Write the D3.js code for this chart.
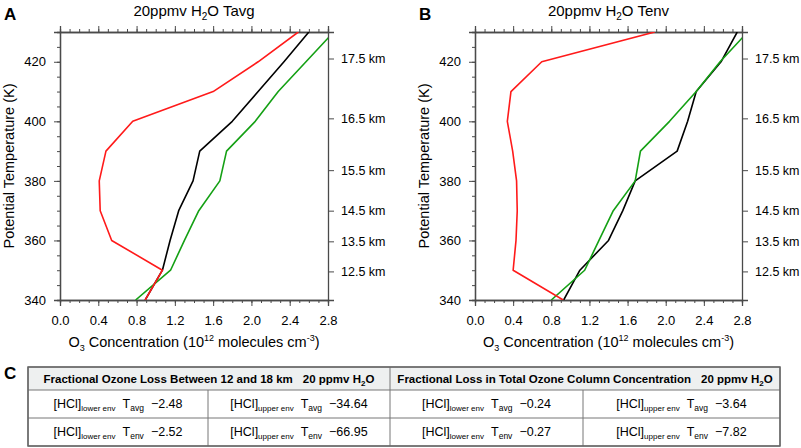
<!DOCTYPE html>
<html>
<head>
<meta charset="utf-8">
<script src="https://cdn.jsdelivr.net/npm/d3@7"></script>
<style>
  body { margin: 0; background: #fff; }
  svg { font-family: "Liberation Sans", Arial, Helvetica, sans-serif; }
</style>
</head>
<body>
<div id="chart"></div>
<script>
// potential temperature levels (K)
var thetaLevels = [340, 350, 360, 370, 380, 390, 400, 410, 420, 430];

// O3 concentration, 1e12 molecules cm-3
var avgRed   = [0.89, 1.07, 0.54, 0.42, 0.41, 0.48, 0.76, 1.60, 2.07, 2.49];
var avgBlack = [0.89, 1.07, 1.15, 1.24, 1.39, 1.46, 1.80, 2.07, 2.34, 2.60];
var avgGreen = [0.79, 1.155, 1.30, 1.45, 1.67, 1.74, 2.04, 2.28, 2.57, 2.86];

var envRed   = [0.925, 0.40, 0.43, 0.443, 0.436, 0.395, 0.339, 0.377, 0.70, 1.885];
var envBlack = [0.93, 1.10, 1.40, 1.55, 1.68, 2.12, 2.23, 2.32, 2.58, 2.75];
var envGreen = [0.80, 1.15, 1.30, 1.45, 1.68, 1.735, 2.04, 2.32, 2.57, 2.86];

var xTicks = [0.0, 0.4, 0.8, 1.2, 1.6, 2.0, 2.4, 2.8];
var yTicks = [340, 360, 380, 400, 420];
var kmLabels = ["12.5 km", "13.5 km", "14.5 km", "15.5 km", "16.5 km", "17.5 km"];
var kmTheta  = [349.6, 359.7, 370, 383.6, 401, 421.1];

var tableHeaders = [
  "Fractional Ozone Loss Between 12 and 18 km",
  "Fractional Loss in Total Ozone Column Concentration"
];
var tableEnv  = ["lower env", "upper env"];
var tableTemp = ["avg", "env"];
// rows: Tavg, Tenv ; columns: lower/upper env
var lossBand   = [["\u22122.48", "\u221234.64"], ["\u22122.52", "\u221266.95"]];
var lossColumn = [["\u22120.24", "\u22123.64"], ["\u22120.27", "\u22127.82"]];

var W = 801, H = 448;
var plotTop = 32, plotBottom = 300;
var axisColor = "#4a4a4a";

var svg = d3.select("#chart").append("svg")
    .attr("width", W).attr("height", H);

var panels = [
  { label: "A", title: "Tavg", left: 60, right: 328, series: [avgBlack, avgGreen, avgRed] },
  { label: "B", title: "Tenv", left: 475, right: 742, series: [envBlack, envGreen, envRed] }
];
var lineColors = ["#000000", "#14a014", "#ff1a1a"];

panels.forEach(function (p, pi) {
    var x = d3.scaleLinear().domain([0, 2.8]).range([p.left, p.right]);
    var y = d3.scaleLinear().domain([340, 430]).range([plotBottom, plotTop]);
    var g = svg.append("g");

    // clip so the green line stops at the frame
    svg.append("clipPath").attr("id", "clip" + pi)
        .append("rect").attr("x", p.left).attr("y", plotTop)
        .attr("width", p.right - p.left).attr("height", plotBottom - plotTop);

    // axes
    var xb = d3.axisBottom(x).tickValues(xTicks).tickFormat(d3.format(".1f")).tickSize(6).tickPadding(10);
    var xbm = d3.axisBottom(x).ticks(28).tickFormat("").tickSize(3);
    var xt = d3.axisTop(x).tickValues(xTicks).tickFormat("").tickSize(6);
    var xtm = d3.axisTop(x).ticks(28).tickFormat("").tickSize(3);
    var yl = d3.axisLeft(y).tickValues(yTicks).tickSize(6).tickPadding(8);
    var ylm = d3.axisLeft(y).ticks(18).tickFormat("").tickSize(3);
    var yr = d3.axisRight(y).tickValues(kmTheta).tickFormat(function (d, i) { return kmLabels[i]; })
        .tickSize(6).tickPadding(7);

    g.append("g").attr("transform", "translate(0," + plotBottom + ")").call(xbm);
    g.append("g").attr("transform", "translate(0," + plotBottom + ")").call(xb);
    g.append("g").attr("transform", "translate(0," + plotTop + ")").call(xtm);
    g.append("g").attr("transform", "translate(0," + plotTop + ")").call(xt);
    g.append("g").attr("transform", "translate(" + p.left + ",0)").call(ylm);
    g.append("g").attr("transform", "translate(" + p.left + ",0)").call(yl);
    var gr = g.append("g").attr("transform", "translate(" + p.right + ",0)").call(yr);

    g.selectAll(".domain").attr("stroke", axisColor).attr("stroke-width", 1.3);
    g.selectAll(".tick line").attr("stroke", axisColor).attr("stroke-width", 1);
    g.selectAll(".tick text").attr("fill", "#000").attr("font-size", 13)
        .attr("font-family", "Liberation Sans, Arial, sans-serif");
    gr.selectAll(".tick text").attr("font-size", 12.5);

    // lines
    var line = d3.line()
        .x(function (d) { return x(d[0]); })
        .y(function (d) { return y(d[1]); });
    var lg = g.append("g").attr("clip-path", "url(#clip" + pi + ")");
    p.series.forEach(function (s, si) {
        var pts = s.map(function (v, i) { return [v, thetaLevels[i]]; });
        lg.append("path")
            .attr("d", line(pts))
            .attr("fill", "none")
            .attr("stroke", lineColors[si])
            .attr("stroke-width", 1.6)
            .attr("stroke-linejoin", "round");
    });

    // panel letter
    svg.append("text").attr("x", p.left - 56).attr("y", 20)
        .attr("font-size", 17).attr("font-weight", "bold").text(p.label);

    // title
    var t = svg.append("text").attr("x", (p.left + p.right) / 2).attr("y", 16)
        .attr("text-anchor", "middle").attr("font-size", 15);
    t.append("tspan").text("20ppmv H");
    t.append("tspan").attr("font-size", 10).attr("dy", 4).text("2");
    t.append("tspan").attr("dy", -4).text("O " + p.title);

    // x label
    var xl = svg.append("text").attr("x", (p.left + p.right) / 2).attr("y", 347)
        .attr("text-anchor", "middle").attr("font-size", 14.5);
    xl.append("tspan").text("O");
    xl.append("tspan").attr("font-size", 9).attr("dy", 4).text("3");
    xl.append("tspan").attr("dy", -4).text(" Concentration (10");
    xl.append("tspan").attr("font-size", 9).attr("dy", -6).text("12");
    xl.append("tspan").attr("dy", 6).text(" molecules cm");
    xl.append("tspan").attr("font-size", 9).attr("dy", -6).text("-3");
    xl.append("tspan").attr("dy", 6).text(")");

    // y label
    svg.append("text")
        .attr("transform", "translate(" + (p.left - 46) + "," + ((plotTop + plotBottom) / 2) + ") rotate(-90)")
        .attr("text-anchor", "middle").attr("font-size", 14.5)
        .text("Potential Temperature (K)");
});

// ---- table C ----
var tl = 28, tr = 780, tmid = 390;
var rowY = [367, 390, 418, 446];
var subCols = [[28, 208, 390], [390, 583, 780]];

svg.append("text").attr("x", 4).attr("y", 379)
    .attr("font-size", 17).attr("font-weight", "bold").text("C");

svg.append("rect").attr("x", tl).attr("y", rowY[0])
    .attr("width", tr - tl).attr("height", rowY[1] - rowY[0])
    .attr("fill", "#eef0f0");

var tg = svg.append("g").attr("stroke", "#777").attr("stroke-width", 1);
rowY.forEach(function (yy) {
    tg.append("line").attr("x1", tl).attr("x2", tr).attr("y1", yy).attr("y2", yy);
});
[tl, tmid, tr].forEach(function (xx) {
    tg.append("line").attr("x1", xx).attr("x2", xx).attr("y1", rowY[0]).attr("y2", rowY[3]);
});
[subCols[0][1], subCols[1][1]].forEach(function (xx) {
    tg.append("line").attr("x1", xx).attr("x2", xx).attr("y1", rowY[1]).attr("y2", rowY[3]);
});
svg.append("rect").attr("x", tl).attr("y", rowY[0]).attr("width", tr - tl)
    .attr("height", rowY[3] - rowY[0]).attr("fill", "none")
    .attr("stroke", "#666").attr("stroke-width", 1.5);

tableHeaders.forEach(function (h, hi) {
    var cx = (subCols[hi][0] + subCols[hi][2]) / 2;
    var t = svg.append("text").attr("x", cx).attr("y", 383)
        .attr("text-anchor", "middle").attr("font-size", 11.5).attr("font-weight", "bold");
    t.append("tspan").text(h);
    t.append("tspan").attr("dx", 10).text("20 ppmv H");
    t.append("tspan").attr("font-size", 8).attr("dy", 3).text("2");
    t.append("tspan").attr("dy", -3).text("O");
});

[lossBand, lossColumn].forEach(function (vals, hi) {
    vals.forEach(function (row, ri) {
        row.forEach(function (v, ci) {
            var cx = (subCols[hi][ci] + subCols[hi][ci + 1]) / 2;
            var cy = (rowY[ri + 1] + rowY[ri + 2]) / 2 + 4;
            var t = svg.append("text").attr("x", cx).attr("y", cy)
                .attr("text-anchor", "middle").attr("font-size", 12.5);
            t.append("tspan").text("[HCl]");
            t.append("tspan").attr("font-size", 8).attr("dy", 3).text(tableEnv[ci]);
            t.append("tspan").attr("dy", -3).attr("dx", 7).text("T");
            t.append("tspan").attr("font-size", 8.5).attr("dy", 3).text(tableTemp[ri]);
            t.append("tspan").attr("dy", -3).attr("dx", 7).text(v);
        });
    });
});
</script>
</body>
</html>
